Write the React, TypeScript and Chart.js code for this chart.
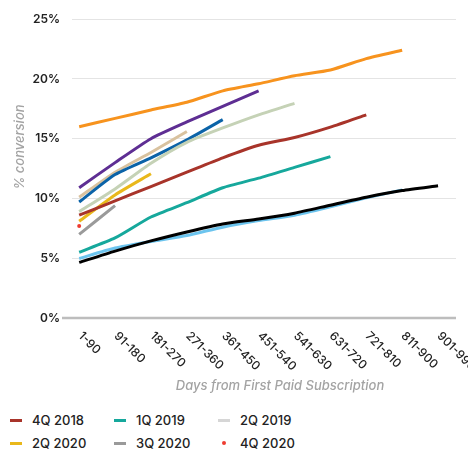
import React, { useEffect, useRef } from 'react';
import { Chart, registerables } from 'chart.js';
Chart.register(...registerables);

const dayBuckets = ['1-90', '91-180', '181-270', '271-360', '361-450', '451-540', '541-630', '631-720', '721-810', '811-900', '901-990'];
const yTicks = [0, 5, 10, 15, 20, 25];

const s2Q2018 = [4.65, 5.6, 6.45, 7.2, 7.87, 8.28, 8.77, 9.44, 10.1, 10.66, 11.06];
const s3Q2018 = [4.98, 5.85, 6.4, 6.9, 7.6, 8.15, 8.6, 9.3, 10.05, 10.72];
const sTop = [16.0, 16.7, 17.4, 18.05, 19.0, 19.6, 20.27, 20.75, 21.7, 22.4];
const s4Q2018 = [8.6, 9.8, 11.0, 12.2, 13.4, 14.45, 15.1, 15.97, 17.0];
const s1Q2019 = [5.5, 6.7, 8.45, 9.65, 10.9, 11.7, 12.6, 13.5];
const s2Q2019 = [8.9, 10.8, 12.95, 14.7, 15.9, 17.0, 17.96];
const s3Q2019 = [10.9, 13.0, 15.0, 16.4, 17.7, 19.0];
const s4Q2019 = [9.7, 12.0, 13.4, 14.9, 16.6];
const s1Q2020 = [10.1, 12.2, 13.85, 15.6];
const s2Q2020 = [8.1, 10.3, 12.07];
const s3Q2020 = [7.0, 9.4];
const s4Q2020 = [7.7];

const seriesNames = ['2Q 2018', '3Q 2018', 'Top', '4Q 2018', '1Q 2019', '2Q 2019', '3Q 2019', '4Q 2019', '1Q 2020', '2Q 2020', '3Q 2020', '4Q 2020'];
const seriesValues = [s2Q2018, s3Q2018, sTop, s4Q2018, s1Q2019, s2Q2019, s3Q2019, s4Q2019, s1Q2020, s2Q2020, s3Q2020, s4Q2020];
const seriesColors = ['#000000', '#6CC4EE', '#F7931E', '#A8342A', '#16A89C', '#C5D2B6', '#5E2E93', '#0B63A8', '#D9C29F', '#E9B81B', '#9A9A9A', '#EE3B30'];

const legendNames = ['4Q 2018', '1Q 2019', '2Q 2019', '2Q 2020', '3Q 2020', '4Q 2020'];
const legendColors = ['#A8342A', '#16A89C', '#D6D6D6', '#E9B81B', '#9A9A9A', '#EE3B30'];

const FONT = 'Inter, "Noto Sans", sans-serif';

const decorPlugin = {
  id: 'decor',
  beforeDatasetsDraw(chart: any) {
    const { ctx, chartArea } = chart;
    const y = chart.scales.y;
    const y0 = y.getPixelForValue(0);
    ctx.save();
    ctx.strokeStyle = '#BDBDBD';
    ctx.lineWidth = 2.5;
    ctx.beginPath();
    ctx.moveTo(chartArea.left - 10, y0);
    ctx.lineTo(chartArea.right, y0);
    ctx.stroke();
    ctx.restore();
  },
  afterDraw(chart: any) {
    const { ctx } = chart;
    const x = chart.scales.x;
    const y = chart.scales.y;
    const y0 = y.getPixelForValue(0);
    ctx.save();
    ctx.fillStyle = '#222222';
    ctx.font = `500 12px ${FONT}`;
    ctx.textAlign = 'left';
    ctx.textBaseline = 'middle';
    dayBuckets.forEach((lab, i) => {
      const px = x.getPixelForValue(i);
      ctx.save();
      ctx.translate(px + 1, y0 + 16);
      ctx.rotate(Math.PI / 4);
      ctx.fillText(lab, 0, 0);
      ctx.restore();
    });
    ctx.fillStyle = '#A3A3A3';
    ctx.font = `italic 500 13px ${FONT}`;
    ctx.textAlign = 'center';
    ctx.fillText('Days from First Paid Subscription', 280, 386);
    ctx.save();
    ctx.translate(20, 147);
    ctx.rotate(-Math.PI / 2);
    ctx.fillText('% conversion', 0, 0);
    ctx.restore();
    ctx.restore();
  },
};

export default function App() {
  const ref = useRef<HTMLCanvasElement>(null);
  useEffect(() => {
    if (!ref.current) return;
    const datasets = seriesNames.map((name, k) => ({
      label: name,
      data: seriesValues[k].map((v, i) => ({ x: i, y: v })),
      borderColor: seriesColors[k],
      backgroundColor: seriesColors[k],
      borderWidth: 3,
      pointRadius: seriesValues[k].length === 1 ? 2 : 0,
      pointBorderWidth: 0,
      showLine: seriesValues[k].length > 1,
      tension: 0.2,
      fill: false,
    }));
    const chart = new Chart(ref.current, {
      type: 'line',
      data: { datasets },
      plugins: [decorPlugin],
      options: {
        responsive: false,
        animation: false,
        devicePixelRatio: 1,
        layout: { padding: { left: 0, top: 10, right: 12, bottom: 82 } },
        plugins: { legend: { display: false }, tooltip: { enabled: false } },
        scales: {
          x: { type: 'linear', min: -0.2, max: 10.5, display: false },
          y: {
            min: 0,
            max: 25,
            afterFit: (s: any) => { s.width = 72; },
            afterBuildTicks: (s: any) => { s.ticks = yTicks.map((v) => ({ value: v })); },
            ticks: {
              padding: 12,
              color: '#222222',
              font: { family: FONT, size: 12, weight: '600' },
              callback: (v: any) => `${v}%`,
            },
            grid: {
              drawTicks: false,
              color: (c: any) => (c.tick && c.tick.value === 0 ? 'rgba(0,0,0,0)' : '#E4E4E4'),
              lineWidth: 1,
            },
            border: { display: false },
          },
        },
      } as any,
    });
    return () => chart.destroy();
  }, []);

  return (
    <div style={{ position: 'fixed', left: 0, top: 0, width: 468, height: 456, background: '#fff' }}>
      <canvas ref={ref} width={468} height={400} style={{ position: 'absolute', left: 0, top: 0, width: 468, height: 400 }} />
      <div style={{ position: 'absolute', left: 0, top: 410, width: 468, fontFamily: FONT, fontSize: 13, fontWeight: 500, color: '#222' }}>
        {legendNames.map((n, i) => (
          <div key={n} style={{ position: 'absolute', left: 10 + (i % 3) * 104, top: Math.floor(i / 3) * 23, height: 20, display: 'flex', alignItems: 'center' }}>
            {n === '4Q 2020' ? (
              <span style={{ width: 12, display: 'inline-flex', justifyContent: 'center' }}>
                <span style={{ width: 4, height: 4, borderRadius: 2, background: legendColors[i] }} />
              </span>
            ) : (
              <span style={{ width: 12, height: 3, background: legendColors[i] }} />
            )}
            <span style={{ marginLeft: 10 }}>{n}</span>
          </div>
        ))}
      </div>
    </div>
  );
}
